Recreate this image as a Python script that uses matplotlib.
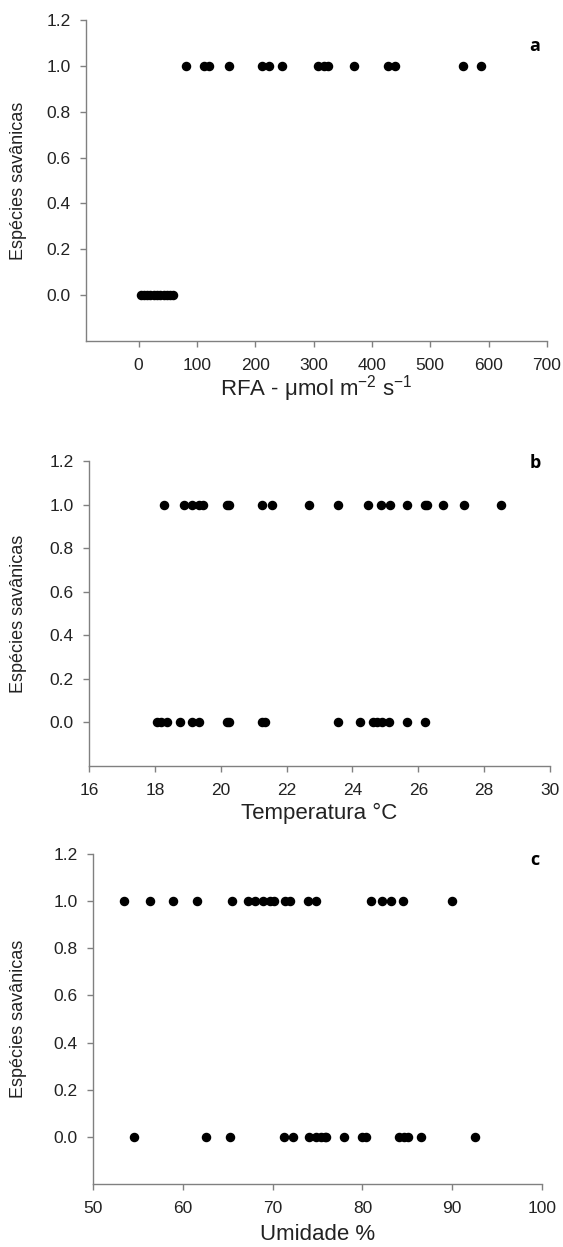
import matplotlib.pyplot as plt

plt.rcParams['font.family'] = ['Liberation Sans', 'DejaVu Sans']

# painel a - RFA
rfa_1 = [82, 112, 120, 155, 211, 224, 246, 308, 317, 325, 370, 427, 439, 556, 587]
rfa_0 = [5, 10, 15, 20, 26, 31, 37, 43, 49, 54, 59]
# painel b - temperatura
temp_1 = [18.28, 18.89, 19.12, 19.35, 19.45, 20.19, 20.26, 21.25, 21.57, 22.68, 23.57,
          24.46, 24.86, 25.13, 25.67, 26.20, 26.27, 26.74, 27.38, 28.50]
temp_0 = [18.05, 18.20, 18.38, 18.77, 19.12, 19.35, 20.19, 20.26, 21.25, 21.36, 23.56,
          24.22, 24.61, 24.76, 24.91, 25.12, 25.67, 26.20]
# painel c - umidade
umid_1 = [53.4, 56.4, 58.9, 61.6, 65.5, 67.3, 68.0, 68.9, 69.7, 70.2, 71.4, 71.9,
          73.9, 74.8, 81.0, 82.2, 83.2, 84.5, 90.0]
umid_0 = [54.6, 62.6, 65.3, 71.3, 72.3, 74.1, 74.8, 75.4, 75.8, 76.0, 77.9, 80.0,
          80.4, 84.1, 84.6, 85.1, 86.5, 92.5]

W, H = 563, 1247
fig = plt.figure(figsize=(W / 100, H / 100), dpi=100)

def box(l, r, t, b):
    return [l / W, 1 - b / H, (r - l) / W, (b - t) / H]

panels = [
    (box(86, 547, 20, 341), rfa_1, rfa_0, (-90, 700), range(0, 701, 100),
     r'RFA - $\mathregular{\mu}$mol m$^{\mathregular{-2}}$ s$^{\mathregular{-1}}$', 'a', 389, 46),
    (box(89, 550, 461, 766), temp_1, temp_0, (16, 30), range(16, 31, 2),
     'Temperatura °C', 'b', 813, 463),
    (box(93, 542, 854, 1184), umid_1, umid_0, (50, 100), range(50, 101, 10),
     'Umidade %', 'c', 1235, 860),
]

grey = '#808080'
for rect, x1, x0, xlim, xt, xlabel, letter, ylab, ylet in panels:
    ax = fig.add_axes(rect)
    ax.scatter(x1, [1.0] * len(x1), s=34, color='black', zorder=3)
    ax.scatter(x0, [0.0] * len(x0), s=34, color='black', zorder=3)
    ax.set_xlim(*xlim)
    ax.set_ylim(-0.2, 1.2)
    ax.set_xticks(list(xt))
    ax.set_yticks([0.0, 0.2, 0.4, 0.6, 0.8, 1.0, 1.2])
    ax.set_yticklabels(['0.0', '0.2', '0.4', '0.6', '0.8', '1.0', '1.2'])
    for s in ['top', 'right']:
        ax.spines[s].set_visible(False)
    for s in ['left', 'bottom']:
        ax.spines[s].set_color(grey)
        ax.spines[s].set_linewidth(1.0)
    ax.tick_params(colors=grey, labelcolor='#222222', labelsize=12.5, length=4,
                   width=1.0, pad=7)
    ax.tick_params(axis='x', pad=8)
    ax.set_ylabel('Espécies savânicas', fontsize=13, color='#222222')
    pos = ax.get_position()
    ax.yaxis.set_label_coords((27 - rect[0] * W) / (rect[2] * W), 0.5)
    fig.text(pos.x0 + pos.width / 2, 1 - ylab / H, xlabel,
             ha='center', va='center', fontsize=16, color='#222222')
    fig.text(535 / W, 1 - ylet / H, letter, ha='center', va='center',
             fontsize=13, fontweight='bold', family=['Open Sans', 'DejaVu Sans'])

fig.savefig('out.png', dpi=100)
